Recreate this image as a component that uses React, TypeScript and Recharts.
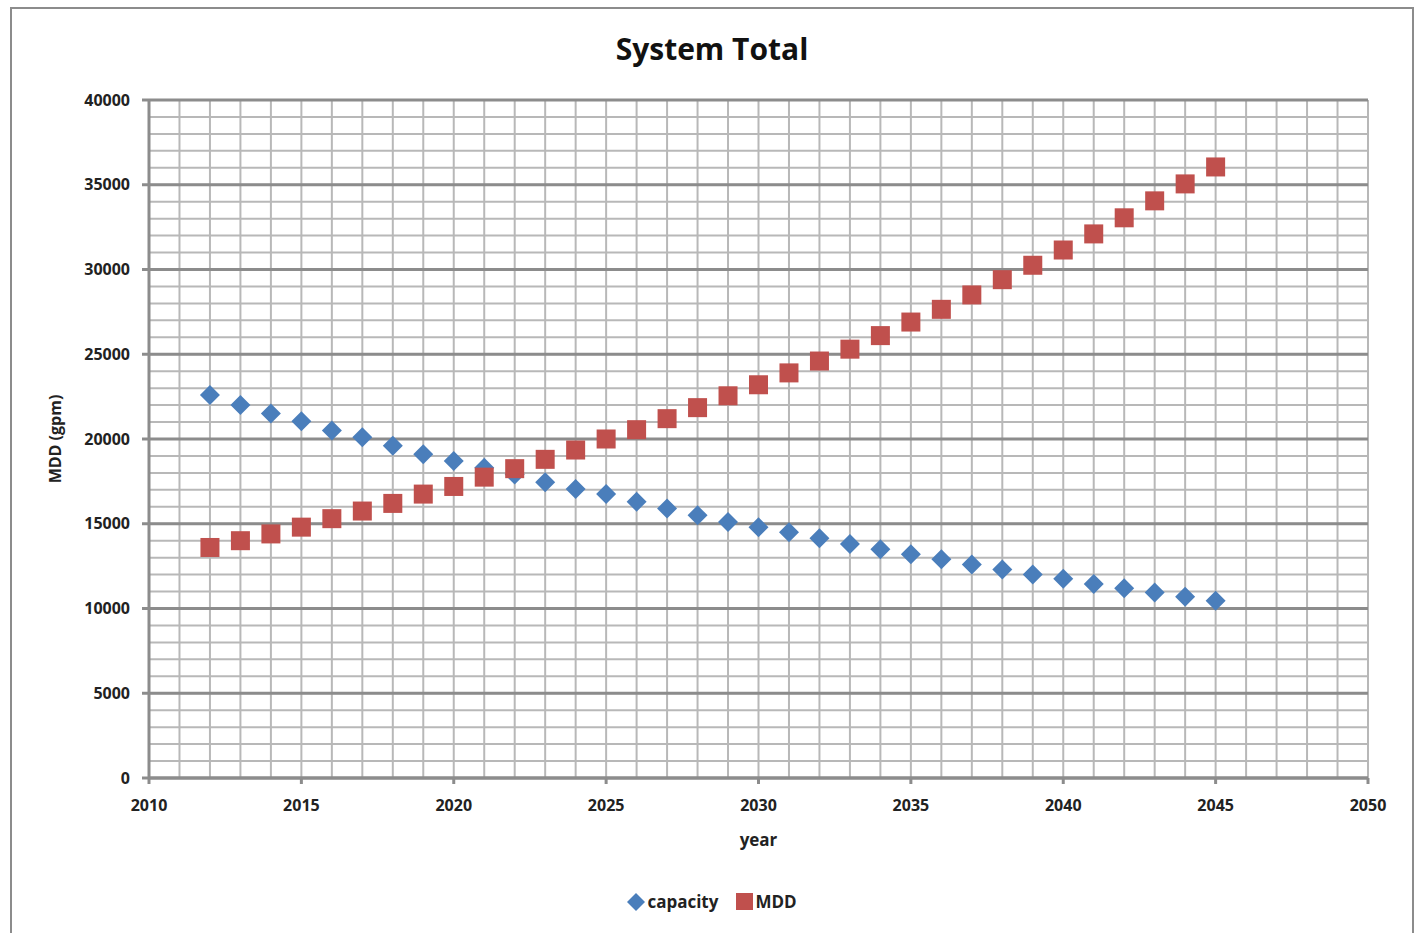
import { ScatterChart, Scatter, XAxis, YAxis, CartesianGrid } from "recharts";

const years = [
  2012, 2013, 2014, 2015, 2016, 2017, 2018, 2019, 2020, 2021, 2022, 2023,
  2024, 2025, 2026, 2027, 2028, 2029, 2030, 2031, 2032, 2033, 2034, 2035,
  2036, 2037, 2038, 2039, 2040, 2041, 2042, 2043, 2044, 2045,
];
const capacity = [
  22600, 22000, 21500, 21050, 20500, 20100, 19600, 19100, 18700, 18300, 17900, 17450,
  17050, 16750, 16300, 15900, 15500, 15100, 14800, 14500, 14150, 13800, 13500, 13200,
  12900, 12600, 12300, 12000, 11750, 11450, 11200, 10950, 10700, 10450,
];
const mdd = [
  13600, 14000, 14400, 14800, 15300, 15750, 16200, 16750, 17200, 17750, 18250, 18800,
  19350, 20000, 20550, 21200, 21850, 22550, 23200, 23900, 24600, 25300, 26100, 26900,
  27650, 28500, 29400, 30250, 31150, 32100, 33050, 34050, 35050, 36050,
];
const xTicks = [2010, 2015, 2020, 2025, 2030, 2035, 2040, 2045, 2050];
const yTicks = [0, 5000, 10000, 15000, 20000, 25000, 30000, 35000, 40000];
const minorYears = Array.from({ length: 41 }, (_, i) => 2010 + i);
const minorY = Array.from({ length: 41 }, (_, i) => i * 1000);

const capData = years.map((x, i) => ({ x, y: capacity[i] }));
const mddData = years.map((x, i) => ({ x, y: mdd[i] }));

const BLUE = "#4a7ebb";
const RED = "#c0504d";
const FONT = "'Open Sans', 'Liberation Sans', sans-serif";

const Diamond = (p: any) => {
  const { cx, cy } = p;
  const r = 10;
  return <polygon points={`${cx},${cy - r} ${cx + r},${cy} ${cx},${cy + r} ${cx - r},${cy}`} fill={BLUE} />;
};
const Square = (p: any) => {
  const { cx, cy } = p;
  const r = 9.5;
  return <rect x={cx - r} y={cy - r} width={2 * r} height={2 * r} fill={RED} />;
};

export default function App() {
  return (
    <div style={{ position: "absolute", left: 0, top: 0, width: 1424, height: 933, background: "#fff" }}>
      <div style={{ position: "absolute", left: 10, top: 7, width: 1404, height: 940, border: "2px solid #8c8c8c", boxSizing: "border-box" }} />
      <div style={{ position: "absolute", left: 0, top: 28, width: 1424, textAlign: "center", fontFamily: FONT, fontWeight: 700, fontSize: 30, color: "#111" }}>
        System Total
      </div>
      <div style={{ position: "absolute", left: 0, top: 0 }}>
        <ScatterChart width={1424} height={933} margin={{ top: 100, right: 56, bottom: 115, left: 69 }}>
          <CartesianGrid
            horizontalValues={minorY}
            verticalValues={minorYears}
            stroke="#b8b8b8"
            strokeWidth={2}
          />
          <CartesianGrid
            horizontalValues={yTicks}
            vertical={false}
            stroke="#8c8c8c"
            strokeWidth={3}
          />
          <XAxis
            type="number"
            dataKey="x"
            domain={[2010, 2050]}
            ticks={xTicks}
            interval={0}
            allowDataOverflow
            stroke="#8c8c8c"
            strokeWidth={3}
            tickSize={6}
            tickMargin={16}
            height={40}
            tick={{ fill: "#222", fontFamily: FONT, fontWeight: 700, fontSize: 16 }}
            label={{ value: "year", position: "insideBottom", offset: -28, fill: "#222", fontFamily: FONT, fontWeight: 700, fontSize: 17 }}
          />
          <YAxis
            type="number"
            dataKey="y"
            domain={[0, 40000]}
            ticks={yTicks}
            interval={0}
            allowDataOverflow
            stroke="#8c8c8c"
            strokeWidth={3}
            tickSize={7}
            tickMargin={12}
            width={80}
            tick={{ fill: "#222", fontFamily: FONT, fontWeight: 700, fontSize: 16 }}
            label={{ value: "MDD (gpm)", angle: -90, position: "insideLeft", offset: -14, fill: "#222", fontFamily: FONT, fontWeight: 700, fontSize: 16, style: { textAnchor: "middle" } }}
          />
          <Scatter name="capacity" data={capData} fill={BLUE} shape={Diamond} isAnimationActive={false} />
          <Scatter name="MDD" data={mddData} fill={RED} shape={Square} isAnimationActive={false} />
        </ScatterChart>
      </div>
      <div style={{ position: "absolute", left: 0, top: 890, width: 1424, display: "flex", justifyContent: "center", alignItems: "center", fontFamily: FONT, fontWeight: 700, fontSize: 17, color: "#222" }}>
        <svg width={18} height={18}><polygon points="9,0 18,9 9,18 0,9" fill={BLUE} /></svg>
        <span style={{ marginLeft: 2, marginRight: 18 }}>capacity</span>
        <svg width={17} height={17}><rect x={0} y={0} width={17} height={17} fill={RED} /></svg>
        <span style={{ marginLeft: 2 }}>MDD</span>
      </div>
    </div>
  );
}
